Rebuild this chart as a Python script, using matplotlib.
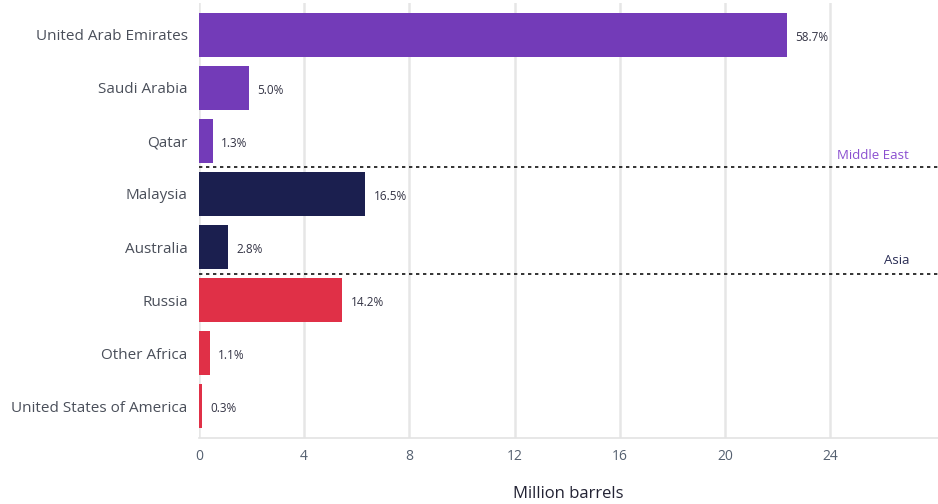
import matplotlib.pyplot as plt

countries = ['United Arab Emirates', 'Saudi Arabia', 'Qatar', 'Malaysia',
             'Australia', 'Russia', 'Other Africa', 'United States of America']
volumes = [22.37, 1.91, 0.53, 6.32, 1.10, 5.45, 0.42, 0.11]
shares = ['58.7%', '5.0%', '1.3%', '16.5%', '2.8%', '14.2%', '1.1%', '0.3%']
regions = ['Middle East', 'Middle East', 'Middle East', 'Asia', 'Asia',
           'Africa/Other', 'Africa/Other', 'Africa/Other']
region_colors = {'Middle East': '#733bb8', 'Asia': '#1b1f4f', 'Africa/Other': '#e03047'}
x_ticks = [0, 4, 8, 12, 16, 20, 24]

plt.rcParams['font.family'] = ['Open Sans', 'DejaVu Sans']

fig = plt.figure(figsize=(9.38, 5.04), dpi=100)
ax = fig.add_axes([0.212, 0.131, 0.788, 0.863])

y = list(range(len(countries)))
colors = [region_colors[r] for r in regions]
ax.barh(y, volumes, height=0.83, color=colors, zorder=3)

for yi, v, s in zip(y, volumes, shares):
    ax.annotate(s, (v, yi), xytext=(6, -2), textcoords='offset points',
                ha='left', va='center', fontsize=8.5, color='#333344')

# region separators
for yy in (2.5, 4.5):
    ax.axhline(yy, color='#111111', linestyle=(0, (2, 2.2)), linewidth=1.2, zorder=4)
ax.text(27.0, 2.27, 'Middle East', color='#8a4fd0', fontsize=9.5, ha='right', va='center')
ax.text(27.0, 4.26, 'Asia', color='#2a2d55', fontsize=9.5, ha='right', va='center')

ax.set_xlim(0, 28.1)
ax.set_ylim(7.6, -0.6)
ax.set_xticks(x_ticks)
ax.set_xticklabels([str(t) for t in x_ticks], color='#556070', fontsize=10)
ax.set_yticks(y)
ax.set_yticklabels(countries, color='#4a4f5a', fontsize=11)
ax.tick_params(axis='both', length=0, pad=8)
ax.grid(axis='x', color='#e6e6e6', linewidth=1.8, zorder=0)
ax.set_axisbelow(True)
for side in ('top', 'right', 'left'):
    ax.spines[side].set_visible(False)
ax.spines['bottom'].set_color('#e3e3e3')
ax.spines['bottom'].set_linewidth(1.2)
ax.set_xlabel('Million barrels', fontsize=12, color='#222233', labelpad=16)

plt.savefig('out.png', dpi=100)
